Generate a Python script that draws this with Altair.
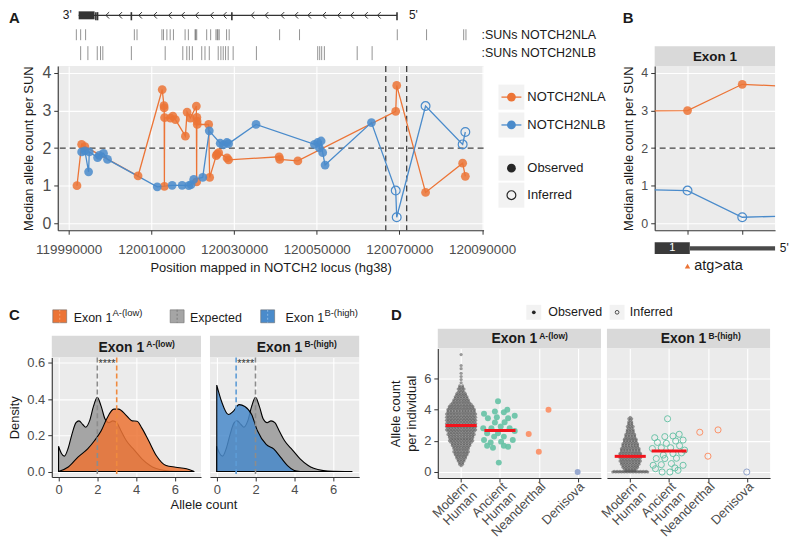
import altair as alt
import pandas as pd

FONT = "Liberation Sans"
ORANGE = "#EC7436"
BLUE = "#4A8BCB"
GREY_EXP = "#A5A5A5"
PANEL = "#EBEBEB"
STRIP = "#D9D9D9"
KEYBG = "#F2F2F2"
DARK = "#333333"
LABEL = "#4D4D4D"
TITLE = "#1A1A1A"
RED = "#F2141C"
MODERN = "#4A4A4A"

# ---------------- Panel A data ----------------
nla_pos = [119992000, 119993130, 119993920, 120006780, 120012620, 120013050, 120013100, 120013150,
           120013200, 120014620, 120015200, 120015820, 120018230, 120018640, 120019430, 120020880,
           120020950, 120021000, 120021050, 120021100, 120023860, 120024100, 120025690, 120025900,
           120026270, 120028300, 120028680, 120040900, 120041050, 120045430, 120069110, 120069350,
           120076330, 120085300, 120085950]
nla_val = [1.00, 2.10, 2.04, 1.26, 3.56, 3.13, 3.07, 0.98, 2.81, 2.80, 2.85, 2.76, 2.32, 2.96, 2.80,
           3.12, 1.10, 2.82, 2.72, 2.63, 2.63, 1.22, 1.80, 1.84, 1.88, 1.74, 1.69, 1.77, 1.70, 1.66,
           2.98, 3.67, 0.82, 1.60, 1.25]
nlb_pos = [119993130, 119993920, 119994810, 119994980, 119996980, 119997390, 119998420, 119999390,
           120011420, 120015030, 120017440, 120019050, 120019600, 120020250, 120022420, 120024010,
           120026650, 120027470, 120028270, 120028680, 120035320, 120049450, 120050240, 120050650,
           120051060, 120051440, 120052020, 120063240, 120069110, 120069350, 120076330, 120085300,
           120085950]
nlb_val = [1.90, 1.93, 1.37, 1.90, 1.75, 1.81, 1.86, 1.70, 0.97, 1.01, 1.01, 1.00, 1.03, 1.17, 1.22,
           2.46, 2.13, 2.09, 2.15, 2.12, 2.63, 2.10, 2.15, 2.01, 2.19, 1.88, 1.55, 2.68, 0.87, 0.16,
           3.12, 2.10, 2.43]
nlb_status = ["Observed"] * 28 + ["Inferred"] * 5

sun_nla = [119991850, 119992890, 119994090, 120005880, 120006530, 120012550, 120012940, 120013750,
           120014550, 120015340, 120018160, 120018950, 120020570, 120020730, 120020970, 120023380,
           120024340, 120025620, 120025930, 120026100, 120026410, 120028190, 120028820, 120041020,
           120045840, 120069490, 120076570, 120085550, 120086100]
sun_nlb = [119992890, 119994645, 119996910, 119997700, 119998255, 120005160, 120013345, 120017605,
           120018570, 120019190, 120019915, 120022180, 120022970, 120024010, 120026170, 120026820,
           120027380, 120027950, 120028580, 120029780, 120035410, 120050240, 120050720, 120051200,
           120051850, 120059790, 120063400]
gene_span = [119992410, 120069420]
utr3 = [119992410, 119996260]
exon_marks = [119996570, 119996980, 120005160, 120029470, 120069420]
chevrons = [119999390, 120002515, 120007330, 120010940, 120014550, 120017680, 120021050, 120024660,
            120027790, 120034520, 120037890, 120041740, 120045110, 120048240, 120051850, 120055460,
            120058590, 120061960, 120065090]
exon1_window = [120066700, 120071760]
A_XDOM = [119987350, 120090360]
A_YDOM = [-0.185, 4.185]
A_XTICKS = [119990000, 120010000, 120030000, 120050000, 120070000, 120090000]

# ---------------- Panel B data ----------------
b_pos = [120068900, 120069110, 120069350, 120069600]
b_nla = [2.99, 3.00, 3.70, 3.63]
b_nlb = [0.90, 0.87, 0.16, 0.20]
b_nlb_status = ["Observed", "Inferred", "Inferred", "Inferred"]
B_XDOM = [120068966, 120069494]
b_ticks = [120069110, 120069350]
b_exon1 = [120068966, 120069120]
b_tx_end = 120069494
b_mut = 120069110

# ---------------- Panel C data ----------------
exp_x = [0.0, 0.15, 0.3, 0.5, 0.7, 0.9, 1.05, 1.25, 1.4, 1.6, 1.8, 2.0, 2.2, 2.4, 2.6, 2.8, 3.0, 3.2,
         3.5, 3.9, 4.3, 4.7, 5.0, 5.5, 6.0, 7.0]
exp_y = [0.14, 0.10, 0.085, 0.13, 0.21, 0.27, 0.28, 0.26, 0.245, 0.28, 0.36, 0.41, 0.36, 0.29, 0.27,
         0.28, 0.27, 0.23, 0.17, 0.12, 0.07, 0.035, 0.018, 0.005, 0.001, 0.0]
low_x = [0.0, 0.5, 1.0, 1.5, 1.85, 2.2, 2.5, 2.85, 3.1, 3.45, 3.8, 4.05, 4.3, 4.65, 5.05, 5.55, 6.05,
         6.6, 7.0]
low_y = [0.0, 0.025, 0.08, 0.125, 0.17, 0.225, 0.295, 0.345, 0.345, 0.315, 0.28, 0.278, 0.24, 0.17,
         0.087, 0.033, 0.024, 0.015, 0.0]
high_x = [0.0, 0.25, 0.6, 0.85, 1.15, 1.45, 1.8, 2.1, 2.55, 2.95, 3.3, 3.65, 4.0, 4.3]
high_y = [0.478, 0.387, 0.315, 0.333, 0.37, 0.36, 0.315, 0.225, 0.15, 0.124, 0.078, 0.033, 0.006, 0.0]
C_XDOM = [-0.35, 7.35]
C_YDOM = [-0.03, 0.63]

# ---------------- Panel D data ----------------
group_colors = {"Ancient Human": "#66C2A5", "Neanderthal": "#FC8D62", "Denisova": "#8DA0CB"}
mh_low_lv = [7.5, 6.8, 6.6, 6.3, 6.1, 5.9, 5.7, 5.5, 5.4, 5.3, 5.2, 5.1, 5.0, 4.9, 4.8, 4.7, 4.6, 4.5,
             4.4, 4.3, 4.2, 4.1, 4.0, 3.9, 3.8, 3.7, 3.6, 3.5, 3.4, 3.3, 3.2, 3.1, 3.0, 2.9, 2.8, 2.7,
             2.6, 2.5, 2.4, 2.3, 2.2, 2.1, 2.0, 1.9, 1.8, 1.7, 1.6, 1.5, 1.4, 1.3, 1.2, 1.1, 1.0, 0.9,
             0.8, 0.7, 0.6, 0.5, 0.4]
mh_low_n = [1, 1, 1, 1, 1, 1, 1, 2, 2, 3, 2, 3, 4, 4, 5, 5, 6, 6, 7, 8, 9, 9, 10, 10, 10, 11, 10, 11,
            10, 11, 10, 11, 10, 11, 10, 11, 10, 9, 10, 9, 9, 8, 9, 8, 7, 7, 6, 6, 5, 6, 5, 5, 4, 4, 3,
            3, 2, 2, 1]
mh_high_lv = [0.0, 0.04, 0.1, 0.2, 0.3, 0.4, 0.5, 0.6, 0.7, 0.8, 0.9, 1.0, 1.1, 1.2, 1.3, 1.4, 1.5,
              1.6, 1.7, 1.8, 1.9, 2.0, 2.1, 2.2, 2.3, 2.4, 2.5, 2.6, 2.7, 2.8, 2.9, 3.0, 3.1, 3.2, 3.3,
              3.4, 3.5]
mh_high_n = [13, 12, 4, 5, 6, 6, 7, 7, 8, 7, 8, 8, 8, 8, 7, 7, 7, 6, 6, 6, 5, 5, 5, 4, 4, 4, 3, 3, 3,
             2, 3, 2, 2, 2, 1, 2, 1]
anc_low_val = [4.52, 3.98, 3.87, 3.81, 3.72, 3.59, 3.50, 3.44, 3.44, 3.18, 3.16, 2.90, 2.79, 2.79,
               2.79, 2.62, 2.47, 2.47, 2.26, 2.26, 2.04, 2.04, 1.94, 1.89, 1.68, 1.68, 1.61, 1.55, 0.60]
anc_low_off = [-0.05, 0.19, -0.13, 0.10, -0.41, 0.38, -0.08, -0.31, 0.21, 0.12, -0.13, 0.02, -0.43,
               -0.22, 0.25, 0.38, -0.33, -0.05, -0.15, 0.10, -0.41, 0.33, 0.03, -0.24, -0.33, 0.10,
               0.21, -0.18, -0.03]
anc_high_val = [3.40, 2.41, 2.30, 2.26, 2.19, 2.04, 1.98, 1.89, 1.83, 1.68, 1.55, 1.55, 1.50, 1.40,
                1.22, 1.18, 1.08, 0.88, 0.86, 0.86, 0.54, 0.47, 0.43, 0.43, 0.26, 0.21, 0.11, 0.0, 0.0]
anc_high_off = [-0.04, 0.26, 0.10, -0.11, -0.37, 0.36, 0.17, -0.30, -0.07, 0.27, -0.20, 0.04, -0.43,
                0.40, 0.32, 0.10, -0.15, 0.19, -0.33, -0.11, 0.06, -0.20, -0.41, 0.36, 0.15, -0.35,
                0.23, -0.18, 0.02]
nea_low_val = [2.43, 1.29, 3.98]
nea_low_off = [-0.26, 0.0, 0.25]
nea_high_val = [2.54, 1.01, 2.69]
nea_high_off = [-0.21, 0.0, 0.26]
den_low_val = [0.0]
den_high_val = [0.0]
med_low = [2.97, 2.65]
med_high = [1.00, 1.34]
D_XDOM = [0.4, 4.6]
D_YDOM = [-0.38, 7.88]


# ---------------- helpers ----------------
def sc(domain, reverse=False):
    return alt.Scale(domain=domain, nice=False, zero=False, reverse=reverse)


def ax(**kw):
    base = dict(labelColor=LABEL, titleColor=TITLE, domainColor=DARK, tickColor=DARK,
                gridColor="white", gridWidth=1.1, tickSize=4, tickWidth=1, domainWidth=1.1,
                labelFontSize=13, titleFontSize=13, titleFontWeight="normal", labelPadding=3,
                labelFont=FONT, titleFont=FONT, labelOverlap=False)
    base.update(kw)
    return alt.Axis(**base)


def txt(text, x, y, size=13, weight="normal", align="left", baseline="middle", color=TITLE):
    return alt.Chart(pd.DataFrame({"t": [text]})).mark_text(
        font=FONT, fontSize=size, fontWeight=weight, align=align, baseline=baseline, color=color
    ).encode(text="t:N", x=alt.value(x), y=alt.value(y))


def strip(w, h, main, sup, x_main, x_sup, y_main, y_sup, align="left", fs=14, fs_sup=8.5):
    layers = [txt(main, x_main, y_main, fs, "bold", align, "alphabetic")]
    if sup:
        layers.append(txt(sup, x_sup, y_sup, fs_sup, "bold", "left", "alphabetic"))
    return alt.layer(*layers).properties(width=w, height=h, view=alt.ViewBackground(fill=STRIP))


col_enc = alt.Color("col:N", scale=None, legend=None)
gene_hex = {"NOTCH2NLA": ORANGE, "NOTCH2NLB": BLUE}

# ---------------- Panel A: gene track + SUN ticks ----------------
LANE_DOM = [0, 55]
lanes = {"gene": 4, "sunA_top": 18, "sunA_bot": 29, "sunB_top": 35, "sunB_bot": 49,
         "labA": 23.5, "labB": 42}
tx = lambda f: alt.X(f, scale=sc(A_XDOM), axis=None)
ty = lambda f: alt.Y(f, scale=sc(LANE_DOM, True), axis=None)

g = lanes["gene"]
backbone = alt.Chart(pd.DataFrame({"s": [gene_span[0]], "e": [gene_span[1]], "l": [g]})).mark_rule(
    color=DARK, strokeWidth=1.3).encode(x=tx("s:Q"), x2="e:Q", y=ty("l:Q"))
utr_box = alt.Chart(pd.DataFrame({"s": [utr3[0]], "e": [utr3[1]], "a": [g - 4], "b": [g + 4]})).mark_rect(
    color=DARK).encode(x=tx("s:Q"), x2="e:Q", y=ty("a:Q"), y2="b:Q")
exons = alt.Chart(pd.DataFrame({"s": exon_marks, "a": [g - 3.2] * len(exon_marks),
                                "b": [g + 5] * len(exon_marks)})).mark_rule(
    color=DARK, strokeWidth=1.6).encode(x=tx("s:Q"), y=ty("a:Q"), y2="b:Q")
chev = alt.Chart(pd.DataFrame({"s": chevrons, "l": [g] * len(chevrons)})).mark_point(
    shape="M0.5,-1L-0.5,0L0.5,1", size=42, filled=False, strokeWidth=1, color=DARK, opacity=1
).encode(x=tx("s:Q"), y=ty("l:Q"))
end3 = alt.Chart(pd.DataFrame({"s": [119990720], "l": [g], "t": ["3'"]})).mark_text(
    font=FONT, fontSize=12, color=TITLE, baseline="middle", align="right").encode(
    x=tx("s:Q"), y=ty("l:Q"), text="t:N")
end5 = alt.Chart(pd.DataFrame({"s": [120072310], "l": [g], "t": ["5'"]})).mark_text(
    font=FONT, fontSize=12, color=TITLE, baseline="middle", align="left").encode(
    x=tx("s:Q"), y=ty("l:Q"), text="t:N")
sun_df = pd.DataFrame({"s": sun_nla + sun_nlb,
                       "a": [lanes["sunA_top"]] * len(sun_nla) + [lanes["sunB_top"]] * len(sun_nlb),
                       "b": [lanes["sunA_bot"]] * len(sun_nla) + [lanes["sunB_bot"]] * len(sun_nlb)})
suns = alt.Chart(sun_df).mark_rule(color="#3A3A3A", opacity=0.55, strokeWidth=1).encode(
    x=tx("s:Q"), y=ty("a:Q"), y2="b:Q")
sun_lab = alt.Chart(pd.DataFrame({"s": [120089880, 120089880], "l": [lanes["labA"], lanes["labB"]],
                                  "t": [":SUNs NOTCH2NLA", ":SUNs NOTCH2NLB"]})).mark_text(
    font=FONT, fontSize=12.5, color=TITLE, align="left", baseline="middle").encode(
    x=tx("s:Q"), y=ty("l:Q"), text="t:N")
letterA = txt("A", -49, 0, 15, "bold", "left", "top")
trackA = alt.layer(backbone, utr_box, exons, chev, end3, end5, suns, sun_lab, letterA).properties(
    width=428, height=55)

# ---------------- Panel A main ----------------
dfA = pd.DataFrame({"pos": nla_pos + nlb_pos, "val": nla_val + nlb_val,
                    "gene": ["NOTCH2NLA"] * len(nla_pos) + ["NOTCH2NLB"] * len(nlb_pos),
                    "status": ["Observed"] * len(nla_pos) + nlb_status})
dfA["col"] = dfA.gene.map(gene_hex)
xA = alt.X("pos:Q", scale=sc(A_XDOM),
           axis=ax(values=A_XTICKS, format="d", labelFontSize=13.5, labelPadding=8,
                   title="Position mapped in NOTCH2 locus (hg38)", titlePadding=6))
yA = alt.Y("val:Q", scale=sc(A_YDOM),
           axis=ax(values=[0, 1, 2, 3, 4], labelFontSize=16, title="Median allele count per SUN",
                   titlePadding=6))
hA = alt.Chart(pd.DataFrame({"val": [2]})).mark_rule(strokeDash=[6, 4], color="#404040",
                                                     strokeWidth=1.3).encode(y=yA)
vA = alt.Chart(pd.DataFrame({"pos": exon1_window})).mark_rule(strokeDash=[6, 4], color="#404040",
                                                              strokeWidth=1.3).encode(x=xA)
lA = alt.Chart(dfA).mark_line(strokeWidth=1.3).encode(x=xA, y=yA, color=col_enc, detail="gene:N")
pA = alt.Chart(dfA[dfA.status == "Observed"]).mark_circle(size=78, opacity=0.85).encode(
    x=xA, y=yA, color=col_enc)
qA = alt.Chart(dfA[dfA.status == "Inferred"]).mark_point(size=78, filled=False, strokeWidth=1.2,
                                                          opacity=1).encode(x=xA, y=yA, color=col_enc)
A_main = alt.layer(hA, vA, lA, pA, qA).properties(width=428, height=165,
                                                  view=alt.ViewBackground(fill=PANEL))

# ---------------- Legend A ----------------
leg_labels = ["NOTCH2NLA", "NOTCH2NLB", "Observed", "Inferred"]
leg_slots = [-0.1, 0.9, 2.45, 3.42]
leg_df = pd.DataFrame({"label": leg_labels, "slot": leg_slots,
                       "lo": [s - 0.45 for s in leg_slots], "hi": [s + 0.45 for s in leg_slots],
                       "col": [ORANGE, BLUE, "#262626", "#262626"]})
ly = lambda f: alt.Y(f, scale=sc([-3.179, 4.143], True), axis=None)
keys = alt.Chart(leg_df).mark_rect(color=KEYBG).encode(x=alt.value(0), x2=alt.value(26),
                                                       y=ly("lo:Q"), y2="hi:Q")
klines = alt.Chart(leg_df.iloc[:2]).mark_rule(strokeWidth=1.3).encode(
    x=alt.value(3), x2=alt.value(23), y=ly("slot:Q"), color=col_enc)
kfill = alt.Chart(leg_df.iloc[:3]).mark_circle(size=78, opacity=1).encode(
    x=alt.value(13), y=ly("slot:Q"), color=col_enc)
khol = alt.Chart(leg_df.iloc[3:]).mark_point(size=78, filled=False, strokeWidth=1.2, opacity=1).encode(
    x=alt.value(13), y=ly("slot:Q"), color=col_enc)
ktxt = alt.Chart(leg_df).mark_text(font=FONT, fontSize=13, align="left", baseline="middle",
                                   color=TITLE).encode(x=alt.value(29), y=ly("slot:Q"), text="label:N")
legA = alt.layer(keys, klines, kfill, khol, ktxt).properties(width=142, height=205)

# ---------------- Panel B ----------------
B_head = txt("B", -32, 0, 15, "bold", "left", "top").properties(width=121, height=35)
B_strip = strip(121, 20, "Exon 1", None, 60.5, 0, 14.5, 0, align="center", fs=13.5)
dfB = pd.DataFrame({"pos": b_pos + b_pos, "val": b_nla + b_nlb,
                    "gene": ["NOTCH2NLA"] * 4 + ["NOTCH2NLB"] * 4,
                    "status": ["Observed"] * 4 + b_nlb_status})
dfB["col"] = dfB.gene.map(gene_hex)
xB = alt.X("pos:Q", scale=sc(B_XDOM), axis=ax(values=b_ticks, labels=False, title=None))
yB = alt.Y("val:Q", scale=sc(A_YDOM), axis=ax(values=[0, 1, 2, 3, 4], labelFontSize=12.5,
                                             title="Median allele count per SUN", titlePadding=5))
hB = alt.Chart(pd.DataFrame({"val": [2]})).mark_rule(strokeDash=[6, 4], color="#404040",
                                                     strokeWidth=1.3).encode(y=yB)
lB = alt.Chart(dfB).mark_line(strokeWidth=1.3, clip=True).encode(x=xB, y=yB, color=col_enc,
                                                                 detail="gene:N")
pB = alt.Chart(dfB[(dfB.status == "Observed") & dfB.pos.isin(b_ticks)]).mark_circle(
    size=78, opacity=0.85).encode(x=xB, y=yB, color=col_enc)
qB = alt.Chart(dfB[(dfB.status == "Inferred") & dfB.pos.isin(b_ticks)]).mark_point(
    size=78, filled=False, strokeWidth=1.2, opacity=1).encode(x=xB, y=yB, color=col_enc)
B_main = alt.layer(hB, lB, pB, qB).properties(width=121, height=165,
                                              view=alt.ViewBackground(fill=PANEL))
bx = lambda f: alt.X(f, scale=sc(B_XDOM), axis=None)
gB_box = alt.Chart(pd.DataFrame({"s": [b_exon1[0]], "e": [b_exon1[1]]})).mark_rect(
    color="#3A3A3A").encode(x=bx("s:Q"), x2="e:Q", y=alt.value(12), y2=alt.value(24))
gB_bar = alt.Chart(pd.DataFrame({"s": [b_exon1[1]], "e": [b_tx_end]})).mark_rect(
    color="#4A4A4A").encode(x=bx("s:Q"), x2="e:Q", y=alt.value(16), y2=alt.value(20.5))
gB_1 = alt.Chart(pd.DataFrame({"s": [(b_exon1[0] + b_exon1[1]) / 2], "t": ["1"]})).mark_text(
    font=FONT, fontSize=11, color="white", baseline="middle").encode(x=bx("s:Q"), y=alt.value(18),
                                                                      text="t:N")
gB_5 = alt.Chart(pd.DataFrame({"s": [120069515], "t": ["5'"]})).mark_text(
    font=FONT, fontSize=12, color=TITLE, baseline="middle", align="left").encode(
    x=bx("s:Q"), y=alt.value(18), text="t:N")
gB_tri = alt.Chart(pd.DataFrame({"s": [b_mut]})).mark_point(
    shape="triangle-up", filled=True, size=30, color=ORANGE, opacity=1).encode(
    x=bx("s:Q"), y=alt.value(36))
gB_mut = alt.Chart(pd.DataFrame({"s": [b_mut + 30], "t": ["atg>ata"]})).mark_text(
    font=FONT, fontSize=14.5, color=TITLE, baseline="middle", align="left").encode(
    x=bx("s:Q"), y=alt.value(36), text="t:N")
B_gene = alt.layer(gB_box, gB_bar, gB_1, gB_5, gB_tri, gB_mut).properties(width=121, height=45)

# ---------------- Panel C ----------------
c_leg = pd.DataFrame({"bx": [1, 119, 210], "fill": [ORANGE, GREY_EXP, BLUE],
                      "dash": ["#F6A576", "#7A7A7A", "#8BB8E3"],
                      "tx": [22, 139, 235], "t": ["Exon 1", "Expected", "Exon 1"]})
c_leg["bx2"] = c_leg.bx + 14
c_leg["mid"] = c_leg.bx + 7
c_leg["by"] = 8
c_leg["by2"] = 21
c_leg["ty"] = 20
hx = lambda f: alt.X(f, scale=sc([0, 309]), axis=None)
hy = lambda f: alt.Y(f, scale=sc([0, 34], True), axis=None)
c_boxes = alt.Chart(c_leg).mark_rect(stroke="#6E6E6E", strokeWidth=0.6).encode(
    x=hx("bx:Q"), x2="bx2:Q", y=hy("by:Q"), y2="by2:Q", fill=alt.Fill("fill:N", scale=None))
c_dash = alt.Chart(c_leg).mark_rule(strokeDash=[2, 2], strokeWidth=1).encode(
    x=hx("mid:Q"), y=hy("by:Q"), y2="by2:Q", color=alt.Color("dash:N", scale=None))
c_txt = alt.Chart(c_leg).mark_text(font=FONT, fontSize=12.5, align="left", baseline="alphabetic",
                                   color=TITLE).encode(x=hx("tx:Q"), y=hy("ty:Q"), text="t:N")
c_sup = alt.Chart(pd.DataFrame({"sx": [61, 274], "sy": [14.5, 14.5], "t": ["A-(low)", "B-(high)"]})).mark_text(
    font=FONT, fontSize=9.5, align="left", baseline="alphabetic", color=TITLE).encode(
    x=hx("sx:Q"), y=hy("sy:Q"), text="t:N")
letterC = txt("C", -43, 6, 15, "bold", "left", "top")
C_head = alt.layer(letterC, c_boxes, c_dash, c_txt, c_sup).properties(width=309, height=34)

dens_low = pd.DataFrame({"x": exp_x + low_x, "y": exp_y + low_y,
                         "grp": ["Expected"] * len(exp_x) + ["Exon"] * len(low_x)})
dens_high = pd.DataFrame({"x": exp_x + high_x, "y": exp_y + high_y,
                          "grp": ["Expected"] * len(exp_x) + ["Exon"] * len(high_x)})


def c_panel(dens, exon_fill, vl, vl_colors, star_x, left_axis):
    if left_axis:
        xC = alt.X("x:Q", scale=sc(C_XDOM),
                   axis=ax(values=[0, 2, 4, 6], labelPadding=3, title="Allele count",
                           titleX=152.5, titleY=22, titleAlign="center", titleBaseline="top",
                           titleAnchor="start"))
        yC = alt.Y("y:Q", scale=sc(C_YDOM), axis=ax(values=[0, 0.2, 0.4, 0.6], format=".1f",
                                                     title="Density", titlePadding=5, labelPadding=3))
    else:
        xC = alt.X("x:Q", scale=sc(C_XDOM), axis=ax(values=[0, 2, 4, 6], labelPadding=3, title=None))
        yC = alt.Y("y:Q", scale=sc(C_YDOM), axis=ax(values=[0, 0.2, 0.4, 0.6], labels=False,
                                                     ticks=False, domain=False, title=None))
    g_area = alt.Chart(dens[dens.grp == "Expected"]).mark_area(
        interpolate="monotone", fill=GREY_EXP, fillOpacity=1, stroke="black", strokeWidth=1.1
    ).encode(x=xC, y=yC)
    e_area = alt.Chart(dens[dens.grp == "Exon"]).mark_area(
        interpolate="monotone", fill=exon_fill, fillOpacity=0.86, stroke="black", strokeWidth=1.1
    ).encode(x=xC, y=yC)
    vdf = pd.DataFrame({"x": vl, "c": vl_colors})
    vlines = alt.Chart(vdf).mark_rule(strokeDash=[5, 3], strokeWidth=1.6).encode(
        x=xC, color=alt.Color("c:N", scale=None))
    stars = alt.Chart(pd.DataFrame({"x": [star_x], "y": [0.592], "t": ["****"]})).mark_text(
        font=FONT, fontSize=11, color="#333333", baseline="middle").encode(x=xC, y=yC, text="t:N")
    return alt.layer(g_area, e_area, vlines, stars).properties(
        width=150, height=120, view=alt.ViewBackground(fill=PANEL))


C1_plot = c_panel(dens_low, ORANGE, [2, 3], ["#8C8C8C", "#F08A3E"], 2.5, True)
C2_plot = c_panel(dens_high, BLUE, [1, 2], ["#5D9BD6", "#8C8C8C"], 1.5, False)
C1_strip = strip(150, 22, "Exon 1", "A-(low)", 47, 95, 16, 11.5)
C2_strip = strip(150, 22, "Exon 1", "B-(high)", 47, 95, 16, 11.5)
C1 = alt.vconcat(C1_strip, C1_plot, spacing=0, bounds="flush")
C2 = alt.vconcat(C2_strip, C2_plot, spacing=0, bounds="flush")
# nested concats have no flush size, so spacing is the offset between their origins
C_facets = alt.hconcat(C1, C2, spacing=159, bounds="flush")
C_col = alt.vconcat(C_head, C_facets, spacing=0, bounds="flush")

# ---------------- Panel D ----------------
SW = 0.075


def swarm(levels, counts, center):
    xs, ys = [], []
    for v, n in zip(levels, counts):
        for i in range(n):
            xs.append(center + (i - (n - 1) / 2) * SW)
            ys.append(v)
    return xs, ys


def d_frame(mh_lv, mh_n, anc_v, anc_o, nea_v, nea_o, den_v):
    mx, my = swarm(mh_lv, mh_n, 1)
    rows = [("Modern Human", x, y) for x, y in zip(mx, my)]
    rows += [("Ancient Human", 2 + o, v) for v, o in zip(anc_v, anc_o)]
    rows += [("Neanderthal", 3 + o, v) for v, o in zip(nea_v, nea_o)]
    rows += [("Denisova", 4.0, v) for v in den_v]
    df = pd.DataFrame(rows, columns=["group", "xp", "val"])
    df["col"] = df.group.map(group_colors).fillna(MODERN)
    return df


dfD_low = d_frame(mh_low_lv, mh_low_n, anc_low_val, anc_low_off, nea_low_val, nea_low_off, den_low_val)
dfD_high = d_frame(mh_high_lv, mh_high_n, anc_high_val, anc_high_off, nea_high_val, nea_high_off,
                   den_high_val)
lab_expr = ("datum.value == 1 ? ['Modern', 'Human'] : datum.value == 2 ? ['Ancient', 'Human'] : "
            "datum.value == 3 ? 'Neanderthal' : 'Denisova'")


def d_panel(df, meds, halfw, hollow, left_axis):
    xD = alt.X("xp:Q", scale=sc(D_XDOM),
               axis=ax(values=[1, 2, 3, 4], labelExpr=lab_expr, labelAngle=-45, labelAlign="right",
                       labelBaseline="top", labelPadding=-2, labelLineHeight=13, title=None))
    if left_axis:
        yD = alt.Y("val:Q", scale=sc(D_YDOM),
                   axis=ax(values=[0, 2, 4, 6], title=["Allele count", "per individual"],
                           titlePadding=5, titleLineHeight=16))
    else:
        yD = alt.Y("val:Q", scale=sc(D_YDOM), axis=ax(values=[0, 2, 4, 6], labels=False, ticks=False,
                                                     domain=False, title=None))
    mh = alt.Chart(df[df.group == "Modern Human"]).mark_circle(size=10, opacity=0.55).encode(
        x=xD, y=yD, color=col_enc)
    oth = df[df.group != "Modern Human"]
    if hollow:
        pts = alt.Chart(oth).mark_point(size=38, filled=False, strokeWidth=1, opacity=0.95).encode(
            x=xD, y=yD, color=col_enc)
    else:
        pts = alt.Chart(oth).mark_circle(size=36, opacity=0.9).encode(x=xD, y=yD, color=col_enc)
    mdf = pd.DataFrame({"lo": [1 - halfw[0], 2 - halfw[1]], "hi": [1 + halfw[0], 2 + halfw[1]],
                        "val": meds})
    med = alt.Chart(mdf).mark_rule(color=RED, strokeWidth=3).encode(
        x=alt.X("lo:Q", scale=sc(D_XDOM)), x2="hi:Q", y=yD)
    return alt.layer(mh, pts, med).properties(width=164, height=130,
                                              view=alt.ViewBackground(fill=PANEL))


D1_plot = d_panel(dfD_low, med_low, [0.4, 0.4], False, True)
D2_plot = d_panel(dfD_high, med_high, [0.4, 0.45], True, False)
D1_strip = strip(164, 20, "Exon 1", "A-(low)", 54, 102, 14.7, 10.5)
D2_strip = strip(164, 20, "Exon 1", "B-(high)", 54, 102, 14.7, 10.5)

d_leg = pd.DataFrame({"bx": [89, 172.7], "t": ["Observed", "Inferred"], "tx": [111, 193]})
d_leg["bx2"] = d_leg.bx + 15
d_leg["mid"] = d_leg.bx + 7.5
d_leg["by"] = 3
d_leg["by2"] = 18
d_leg["cy"] = 10.5
dx = lambda f: alt.X(f, scale=sc([0, 334]), axis=None)
dy = lambda f: alt.Y(f, scale=sc([0, 27], True), axis=None)
d_boxes = alt.Chart(d_leg).mark_rect(color=KEYBG).encode(x=dx("bx:Q"), x2="bx2:Q", y=dy("by:Q"),
                                                         y2="by2:Q")
d_dot = alt.Chart(d_leg.iloc[:1]).mark_circle(size=14, color="#262626", opacity=1).encode(
    x=dx("mid:Q"), y=dy("cy:Q"))
d_ring = alt.Chart(d_leg.iloc[1:]).mark_point(size=14, filled=False, color="#262626", strokeWidth=0.8,
                                              opacity=1).encode(x=dx("mid:Q"), y=dy("cy:Q"))
d_txt = alt.Chart(d_leg).mark_text(font=FONT, fontSize=12.5, align="left", baseline="middle",
                                   color=TITLE).encode(x=dx("tx:Q"), y=dy("cy:Q"), text="t:N")
letterD = txt("D", -47, 6, 15, "bold", "left", "top")
D_head = alt.layer(letterD, d_boxes, d_dot, d_ring, d_txt).properties(width=334, height=27)

D1 = alt.vconcat(D1_strip, D1_plot, spacing=0, bounds="flush")
D2 = alt.vconcat(D2_strip, D2_plot, spacing=0, bounds="flush")
D_facets = alt.hconcat(D1, D2, spacing=170, bounds="flush")
D_col = alt.vconcat(D_head, D_facets, spacing=0, bounds="flush")

# ---------------- assembly ----------------
spacer = alt.Chart(pd.DataFrame({"t": [0]})).mark_point(size=1, opacity=0).encode(
    x=alt.value(0.5), y=alt.value(0.5)).properties(width=1, height=1)
A_col = alt.vconcat(trackA, A_main, spacing=0, bounds="flush")
B_col = alt.vconcat(B_head, B_strip, B_main, B_gene, spacing=0, bounds="flush")
right_part = alt.hconcat(legA, B_col, spacing=15, bounds="flush")
top_core = alt.hconcat(A_col, right_part, spacing=443, bounds="flush")
top_row = alt.hconcat(spacer, top_core, spacing=5, bounds="flush")
bottom_row = alt.hconcat(C_col, D_col, spacing=388, bounds="flush")

chart = alt.vconcat(top_row, bottom_row, spacing=292, bounds="flush").properties(
    padding=0
).configure(font=FONT).configure_view(stroke=None)

chart.save("out.html", embed_options={"renderer": "svg", "actions": False})
